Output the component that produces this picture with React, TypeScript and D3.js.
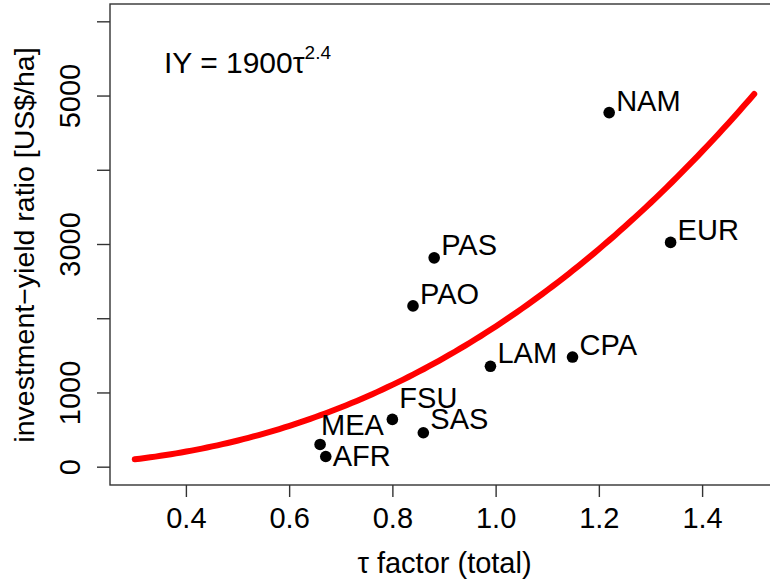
import React, { useEffect, useRef } from "react";
import * as d3 from "d3";

// region codes, tau factor and investment-yield ratio (US$/ha)
const regions = ["NAM", "EUR", "PAS", "PAO", "LAM", "CPA", "FSU", "SAS", "MEA", "AFR"];
const tau = [1.219, 1.338, 0.88, 0.839, 0.989, 1.148, 0.799, 0.859, 0.659, 0.67];
const iy = [4777, 3028, 2820, 2173, 1359, 1484, 644, 464, 306, 144];

// label nudges (px) so names don't collide
const labelDx = [7, 7, 7, 7, 7, 7, 7, 7, 1, 7];
const labelDy = [-2, -2, -3, -2, -3, -2, -11, -4, -9, 10];

const xTicks = [0.4, 0.6, 0.8, 1.0, 1.2, 1.4];
const yTicks = [0, 1000, 2000, 3000, 4000, 5000, 6000];
const yTickLabels = ["0", "1000", "", "3000", "", "5000", ""];

// fitted curve IY = 1900 tau^2.4
const fitA = 1900;
const fitB = 2.4;
const fitRange = [0.3, 1.5];

const W = 770, H = 584;
const FONT = "'Liberation Sans', Arial, Helvetica, sans-serif";

const App = () => {
  const ref = useRef<SVGSVGElement>(null);

  useEffect(() => {
    const svg = d3.select(ref.current);
    svg.selectAll("*").remove();

    // R-style 4% padding around xlim [0.3,1.5], ylim [0,6000]
    const x = d3.scaleLinear().domain([0.252, 1.548]).range([110, 779]);
    const y = d3.scaleLinear().domain([-240, 6240]).range([485, 4]);

    svg.append("defs").append("clipPath").attr("id", "plotclip")
      .append("rect").attr("x", 110).attr("y", 4).attr("width", 669).attr("height", 481);

    const g = svg.append("g").attr("clip-path", "url(#plotclip)");

    // curve
    const pts = d3.range(fitRange[0], fitRange[1] + 1e-9, 0.01).map(t => [t, fitA * Math.pow(t, fitB)]);
    const line = d3.line<number[]>().x(d => x(d[0])).y(d => y(d[1]));
    g.append("path")
      .attr("d", line(pts))
      .attr("fill", "none")
      .attr("stroke", "#ff0000")
      .attr("stroke-width", 6)
      .attr("stroke-linecap", "round");

    // points
    g.selectAll("circle.pt").data(regions).enter().append("circle")
      .attr("class", "pt")
      .attr("cx", (d, i) => x(tau[i]))
      .attr("cy", (d, i) => y(iy[i]))
      .attr("r", 5.8)
      .attr("fill", "#000");

    g.selectAll("text.lab").data(regions).enter().append("text")
      .attr("class", "lab")
      .attr("x", (d, i) => x(tau[i]) + labelDx[i])
      .attr("y", (d, i) => y(iy[i]) + labelDy[i])
      .attr("font-family", FONT)
      .attr("font-size", 29)
      .attr("fill", "#000")
      .text(d => d);

    // box
    svg.append("rect")
      .attr("x", 110).attr("y", 4).attr("width", 669).attr("height", 481)
      .attr("fill", "none").attr("stroke", "#333").attr("stroke-width", 1.4);

    // x axis
    const xa = svg.append("g").attr("transform", "translate(0,485)");
    xa.selectAll("line").data(xTicks).enter().append("line")
      .attr("x1", d => x(d)).attr("x2", d => x(d))
      .attr("y1", 0).attr("y2", 12)
      .attr("stroke", "#333").attr("stroke-width", 1.4);
    xa.selectAll("text").data(xTicks).enter().append("text")
      .attr("x", d => x(d)).attr("y", 43)
      .attr("text-anchor", "middle")
      .attr("font-family", FONT).attr("font-size", 29)
      .text(d => d.toFixed(1));

    // y axis
    const ya = svg.append("g").attr("transform", "translate(110,0)");
    ya.selectAll("line").data(yTicks).enter().append("line")
      .attr("x1", -13).attr("x2", 0)
      .attr("y1", d => y(d)).attr("y2", d => y(d))
      .attr("stroke", "#333").attr("stroke-width", 1.4);
    ya.selectAll("text").data(yTicks).enter().append("text")
      .attr("transform", d => `translate(-30,${y(d)}) rotate(-90)`)
      .attr("text-anchor", "middle")
      .attr("font-family", FONT).attr("font-size", 29)
      .text((d, i) => yTickLabels[i]);

    // axis titles
    svg.append("text")
      .attr("x", 444.5).attr("y", 573)
      .attr("text-anchor", "middle")
      .attr("font-family", FONT).attr("font-size", 29)
      .text("\u03c4 factor (total)");

    svg.append("text")
      .attr("transform", "translate(34,245) rotate(-90)")
      .attr("text-anchor", "middle")
      .attr("font-family", FONT).attr("font-size", 28.5)
      .text("investment\u2212yield ratio [US$/ha]");

    // equation
    const eq = svg.append("text")
      .attr("x", 164).attr("y", 73)
      .attr("font-family", FONT).attr("font-size", 30);
    eq.append("tspan").text("IY = 1900\u03c4");
    eq.append("tspan").attr("dy", -14).attr("font-size", 19).text("2.4");
  }, []);

  return (
    <svg ref={ref} width={W} height={H}
      style={{ position: "absolute", left: 0, top: 0, background: "#fff" }} />
  );
};

export default App;
